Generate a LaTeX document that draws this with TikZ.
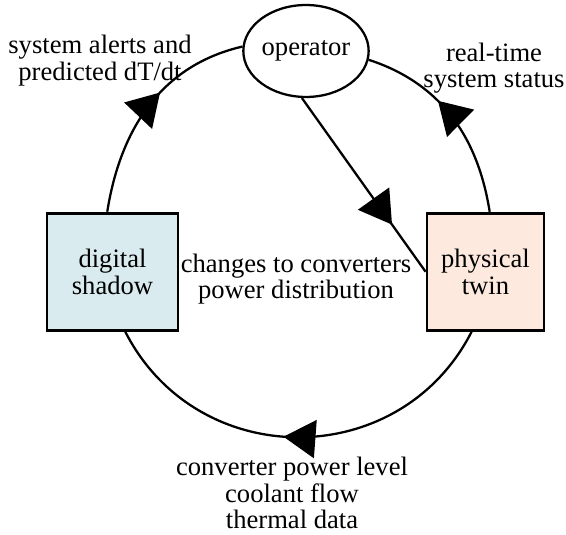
\documentclass[tikz,border=0pt]{standalone}
\usepackage{fontspec}
\setmainfont{Liberation Serif}
\usetikzlibrary{arrows.meta,positioning,shapes.geometric,decorations.markings}
\definecolor{ShadowBack}{HTML}{DAEBF0}
\definecolor{TwinBack}{HTML}{FDE9DD}
\tikzset{>={Triangle[length=16.8pt,width=20pt]},every node/.style={font=\fontsize{14pt}{14pt}\selectfont},
 block/.style={draw,line width=1.5pt,inner sep=0pt,align=center,minimum height=61.6pt},
 actor/.style={ellipse,draw,line width=1.2pt,inner sep=0pt,minimum width=53.7pt,minimum height=48.4pt},
 lbl/.style={align=center,inner sep=0pt},
 flow/.style={line width=1.2pt,postaction={decorate},
 decoration={markings,mark=at position #1 with {\arrow{>}}}}}

\begin{document}
\begin{tikzpicture}[x=0.5263pt,y=0.5263pt]
\useasboundingbox (0,0) rectangle (566,535);
\node[actor] (operator) at (306,484) {operator};
\node[block,fill=ShadowBack,minimum width=68.9pt] (shadow) at (112.5,263.3) {digital\\shadow};
\node[block,fill=TwinBack,minimum width=61.6pt] (twin) at (485.5,263.3) {physical\\twin};
\node[lbl] (alerts) at (100,474.6) {system alerts and\\predicted dT/dt};
\node[lbl] (status) at (494,467) {real-time\\system status};
\node[lbl] (changes) at (296,256) {changes to converters\\power distribution};
\node[lbl] (data) at (292,42) {converter power level\\coolant flow\\thermal data};
\draw[flow=0.58] (shadow.95) to[out=81,in=193] (operator.176);
\draw[flow=0.605] (twin.86) to[out=99,in=-18] (operator.352);
\draw[flow=0.73] (operator.265) -- (twin.west);
\draw[flow=0.535] (twin.257) to[out=243,in=297,looseness=1.17] (shadow.282);
\end{tikzpicture}
\end{document}
